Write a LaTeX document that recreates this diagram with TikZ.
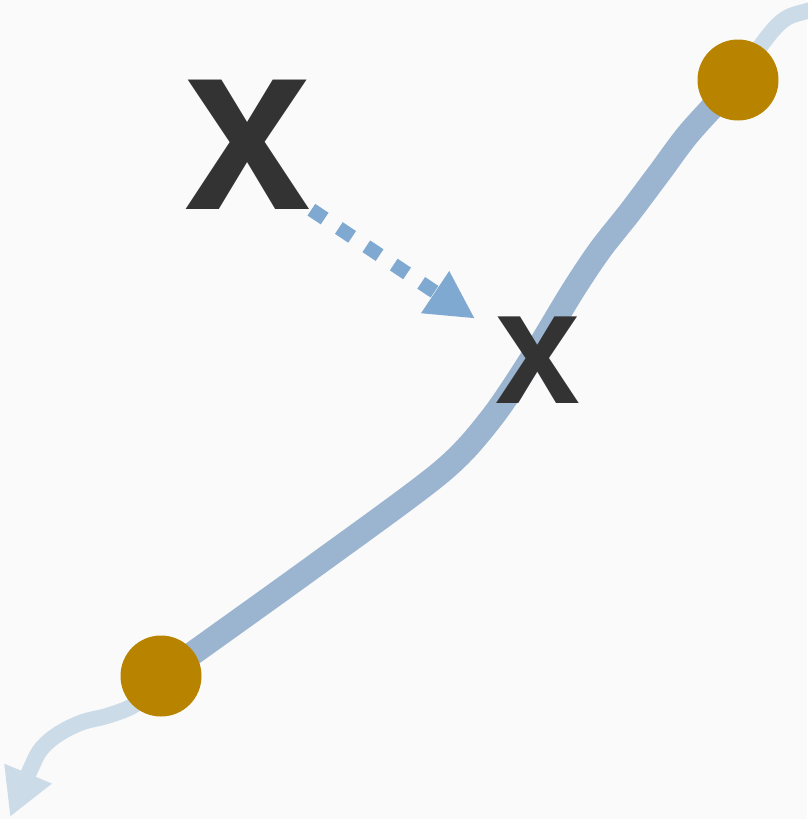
\documentclass[tikz,border=0pt]{standalone}
\usepackage{fontspec}
\setmainfont{Liberation Sans}
\usepackage{xcolor}
\usepackage{tikz}
\usetikzlibrary{arrows.meta, calc}

\definecolor{bgcol}{HTML}{FAFAFA}
\definecolor{trackcol}{HTML}{9BB5D1}
\definecolor{extcol}{HTML}{CCDBE8}
\definecolor{dotcol}{HTML}{B88400}
\definecolor{hintcol}{HTML}{80A9D1}
\definecolor{inkcol}{HTML}{333333}

\begin{document}
\begin{tikzpicture}[
    x=1pt, y=-1pt,
    xmark/.style={inner sep=0pt, outer sep=0pt, text=inkcol},
    dotpin/.style={circle, fill=dotcol, minimum size=81pt, inner sep=0pt},
    track/.style={line width=24pt, draw=trackcol, line cap=round, line join=round},
    ext/.style={line width=16pt, draw=extcol, line cap=round, line join=round},
    hint/.style={line width=14pt, draw=hintcol, dash pattern=on 16pt off 17pt,
                 -{Triangle[length=48pt, width=47pt]}},
]
\fill[bgcol] (0,0) rectangle (807,819);
\useasboundingbox (0,0) rectangle (807,819);

% Points
\coordinate (botpos) at (161,676);
\coordinate (toppos) at (738,80);
\coordinate (exittop) at (815,9);
\coordinate (exitbot) at (10,817);

% Extensions
\draw[ext] plot[smooth, tension=0.6] coordinates
    {(toppos) (765,40) (785,19) (807,11) (exittop)};
\draw[ext, line cap=butt, -{Triangle[length=47pt, width=48pt]}] plot[smooth, tension=0.6] coordinates
    {(botpos) (137,703) (110,715) (83,722) (60,733) (42,748) (31,768) (exitbot)};

% Track
\draw[track] plot[smooth, tension=0.5] coordinates
    {(botpos) (313,567) (440,473) (490,420) (532,358) (572,292)
     (600,250) (630,212) (660,172) (690,132) (toppos)};

% Pins
\node[dotpin] (botdot) at (botpos) {};
\node[dotpin] (topdot) at (toppos) {};

% Marks
\node[xmark, font=\bfseries\fontsize{245}{245}\selectfont, xscale=0.93] (bigx) at (248,145) {x};
\node[xmark, font=\bfseries\fontsize{164}{164}\selectfont, xscale=0.93] (smallx) at (537.5,360) {x};

% Hint arrow
\draw[hint] (bigx.south east) -- ($(smallx.north west)+(-20,2)$);

\end{tikzpicture}
\end{document}
